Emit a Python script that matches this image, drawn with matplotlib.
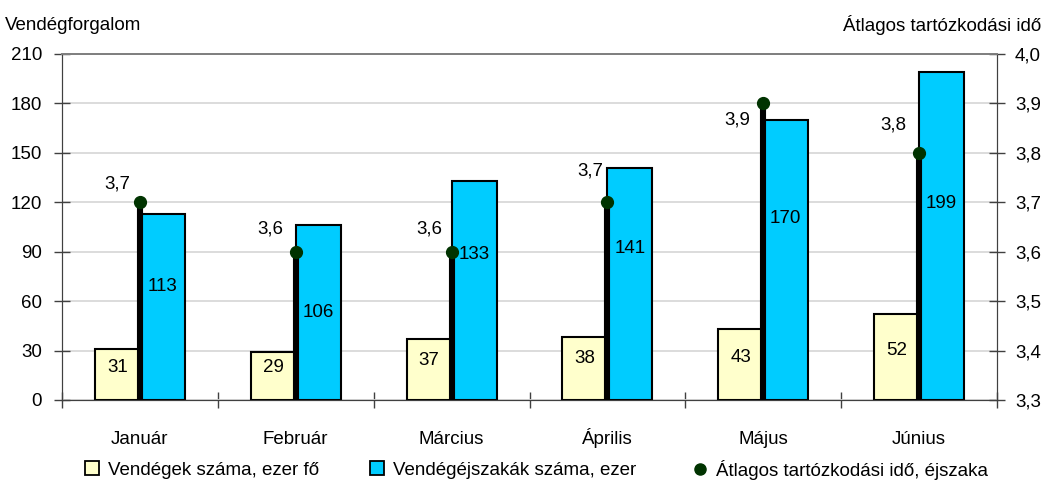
import matplotlib
matplotlib.use("Agg")
import matplotlib.pyplot as plt
import numpy as np
from matplotlib.lines import Line2D
from matplotlib.patches import Patch

plt.rcParams['font.family'] = ['Liberation Sans', 'DejaVu Sans']

months = ['Január', 'Február', 'Március', 'Április', 'Május', 'Június']
guests = [31, 29, 37, 38, 43, 52]
nights = [113, 106, 133, 141, 170, 199]
avg_stay = [3.7, 3.6, 3.6, 3.7, 3.9, 3.8]
avg_labels = ['3,7', '3,6', '3,6', '3,7', '3,9', '3,8']
left_ticks = [0, 30, 60, 90, 120, 150, 180, 210]
right_ticks = [3.3, 3.4, 3.5, 3.6, 3.7, 3.8, 3.9, 4.0]

# label placement (positions, data units)
guest_lab_y = [19.5, 20, 24, 25, 25.5, 30]
night_lab_y = [69, 53, 88.5, 92, 110, 119.5]
avg_lab_dx = [-0.148, -0.16, -0.145, -0.11, -0.168, -0.167]
avg_lab_dy = [0.036, 0.046, 0.046, 0.063, -0.034, 0.057]

YELLOW = '#FFFFCC'
CYAN = '#00CCFF'
DOT = '#003300'

fig = plt.figure(figsize=(10.46, 4.84), dpi=100)
ax = fig.add_axes([62/1046, 84/484, 935/1046, 346/484])
ax2 = ax.twinx()

x = np.arange(len(months))
w = 0.289
ax.bar(x - w/2, guests, w, color=YELLOW, edgecolor='black', linewidth=1.5, zorder=3)
ax.bar(x + w/2, nights, w, color=CYAN, edgecolor='black', linewidth=1.5, zorder=3)

fs = 13.5
for i in range(len(months)):
    ax.text(x[i] - w/2, guest_lab_y[i], str(guests[i]), ha='center', va='center', fontsize=fs, zorder=5)
    ax.text(x[i] + w/2, night_lab_y[i], str(nights[i]), ha='center', va='center', fontsize=fs, zorder=5)

ax.set_xlim(-0.5, len(months) - 0.5)
ax.set_ylim(0, 210)
ax.set_yticks(left_ticks)
ax.set_yticklabels([str(t) for t in left_ticks], fontsize=fs)
ax.yaxis.grid(True, color='#D9D9D9', linewidth=1.3, zorder=0)
ax.set_axisbelow(True)
ax.set_xticks(x)
ax.set_xticklabels(months, fontsize=fs, va='baseline')
ax.tick_params(axis='x', length=0, pad=32)
ax.set_xticks(np.arange(-0.5, len(months) + 0.5, 1), minor=True)
ax.tick_params(axis='x', which='minor', direction='inout', length=11.5, width=1, color='#404040')
ax.tick_params(axis='y', direction='inout', length=11.5, width=1, color='#404040', pad=8.6)

ax2.set_ylim(3.3, 4.0)
ax2.set_yticks(right_ticks)
ax2.set_yticklabels([f'{t:.1f}'.replace('.', ',') for t in right_ticks], fontsize=fs)
ax2.tick_params(axis='y', direction='inout', length=11.5, width=1, color='#404040', pad=7.2)
for i in range(len(months)):
    ax2.plot([x[i], x[i]], [3.3, avg_stay[i]], color='black', linewidth=4.4, zorder=4,
             solid_capstyle='butt')
ax2.plot(x, avg_stay, linestyle='none', marker='o', markersize=8.5, color=DOT, zorder=6)
for i in range(len(months)):
    ax2.text(x[i] + avg_lab_dx[i], avg_stay[i] + avg_lab_dy[i], avg_labels[i],
             ha='center', va='center', fontsize=fs, zorder=6)

for a in (ax, ax2):
    a.spines['top'].set_color('#808080')
    a.spines['top'].set_linewidth(1.3)
    a.spines['left'].set_color('#404040')
    a.spines['right'].set_color('#404040')
    a.spines['bottom'].set_color('#404040')

fig.text(5/1046, 1 - 25/484, 'Vendégforgalom', fontsize=fs, ha='left', va='center')
fig.text(1041/1046, 1 - 25/484, 'Átlagos tartózkodási idő', fontsize=fs, ha='right', va='center')

handles = [
    Patch(facecolor=YELLOW, edgecolor='black', linewidth=1.3),
    Patch(facecolor=CYAN, edgecolor='black', linewidth=1.3),
    Line2D([], [], linestyle='none', marker='o', markersize=8, color=DOT),
]
labels = ['Vendégek száma, ezer fő', 'Vendégéjszakák száma, ezer', 'Átlagos tartózkodási idő, éjszaka']
leg_x = [85, 370, 693]
for hnd, lab, lx in zip(handles, labels, leg_x):
    fig.legend([hnd], [lab], loc='center left', bbox_to_anchor=(lx/1046, 1 - 470/484),
               frameon=False, fontsize=fs, handlelength=0.75, handleheight=0.75,
               handletextpad=0.5, borderpad=0, borderaxespad=0)

fig.savefig('out.png', dpi=100)
